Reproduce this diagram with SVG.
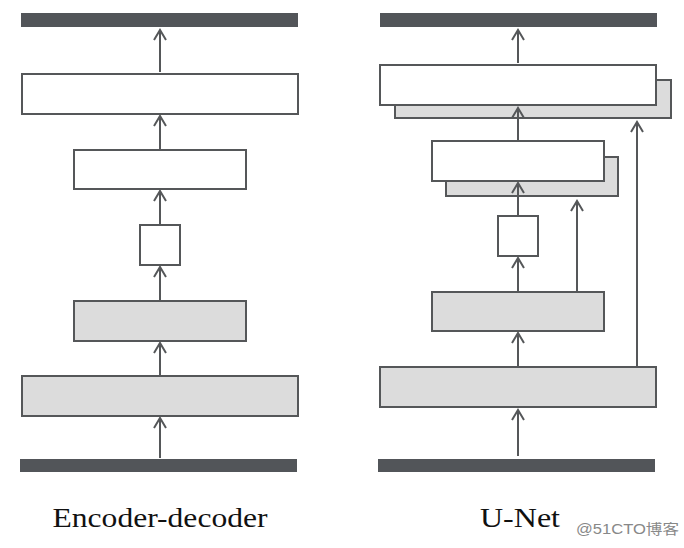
<svg xmlns="http://www.w3.org/2000/svg" width="684" height="548" viewBox="0 0 684 548">
<defs>
<marker id="ah" markerWidth="16" markerHeight="16" refX="13" refY="8" orient="auto" markerUnits="userSpaceOnUse" viewBox="0 0 16 16">
<path d="M3,2 L13,8 L3,14" fill="none" stroke="#555759" stroke-width="2"/>
</marker>
<style>
.bar{fill:#525559}
.w{fill:#ffffff;stroke:#555759;stroke-width:2}
.g{fill:#dcdcdc;stroke:#555759;stroke-width:2}
.c{stroke:#555759;stroke-width:2;fill:none}
.lbl{font-family:"Liberation Serif","DejaVu Serif",serif;font-size:28px;fill:#111}
.wm{font-family:"Liberation Sans","Noto Sans CJK SC",sans-serif;font-size:14px;fill:#888}
</style>
</defs>
<rect width="684" height="548" fill="#ffffff"/>
<g id="ed-output"><rect class="bar" x="21" y="13" width="277" height="14"/></g>
<g id="ed-dec2"><rect class="w" x="22" y="74" width="276" height="40"/></g>
<g id="ed-dec1"><rect class="w" x="74" y="150" width="172" height="39"/></g>
<g id="ed-bottleneck"><rect class="w" x="140" y="225" width="40" height="40"/></g>
<g id="ed-enc2"><rect class="g" x="74" y="301" width="172" height="40"/></g>
<g id="ed-enc1"><rect class="g" x="22" y="376" width="276" height="40"/></g>
<g id="ed-input"><rect class="bar" x="20" y="459" width="277" height="13"/></g>
<g id="un-output"><rect class="bar" x="380" y="13" width="277" height="14"/></g>
<g id="un-dec2"><rect class="g" x="395" y="80" width="276" height="38"/><rect class="w" x="380" y="65" width="276" height="40"/></g>
<g id="un-dec1"><rect class="g" x="446" y="157" width="172" height="39"/><rect class="w" x="432" y="141" width="172" height="40"/></g>
<g id="un-bottleneck"><rect class="w" x="498" y="216" width="40" height="40"/></g>
<g id="un-enc2"><rect class="g" x="432" y="292" width="172" height="39"/></g>
<g id="un-enc1"><rect class="g" x="380" y="367" width="276" height="40"/></g>
<g id="un-input"><rect class="bar" x="378" y="459" width="277" height="13"/></g>
<g id="connectors">
<line class="c" x1="160" y1="72" x2="160" y2="30" marker-end="url(#ah)"/>
<line class="c" x1="160" y1="149" x2="160" y2="116" marker-end="url(#ah)"/>
<line class="c" x1="160" y1="224" x2="160" y2="191" marker-end="url(#ah)"/>
<line class="c" x1="160" y1="300" x2="160" y2="267" marker-end="url(#ah)"/>
<line class="c" x1="160" y1="375" x2="160" y2="343" marker-end="url(#ah)"/>
<line class="c" x1="160" y1="458" x2="160" y2="418" marker-end="url(#ah)"/>
<line class="c" x1="518" y1="63" x2="518" y2="30" marker-end="url(#ah)"/>
<line class="c" x1="518" y1="140" x2="518" y2="108" marker-end="url(#ah)"/>
<line class="c" x1="518" y1="215" x2="518" y2="183" marker-end="url(#ah)"/>
<line class="c" x1="518" y1="291" x2="518" y2="258" marker-end="url(#ah)"/>
<line class="c" x1="518" y1="366" x2="518" y2="333" marker-end="url(#ah)"/>
<line class="c" x1="518" y1="456" x2="518" y2="410" marker-end="url(#ah)"/>
<line class="c" x1="577" y1="291" x2="577" y2="201" marker-end="url(#ah)"/>
<line class="c" x1="637" y1="366" x2="637" y2="122" marker-end="url(#ah)"/>
</g>
<text class="lbl" x="160" y="527" text-anchor="middle" textLength="215" lengthAdjust="spacingAndGlyphs">Encoder-decoder</text>
<text class="lbl" x="520" y="527" text-anchor="middle" textLength="80" lengthAdjust="spacingAndGlyphs">U-Net</text>
<text class="wm" x="576" y="534" textLength="103" lengthAdjust="spacingAndGlyphs">@51CTO博客</text>
</svg>
